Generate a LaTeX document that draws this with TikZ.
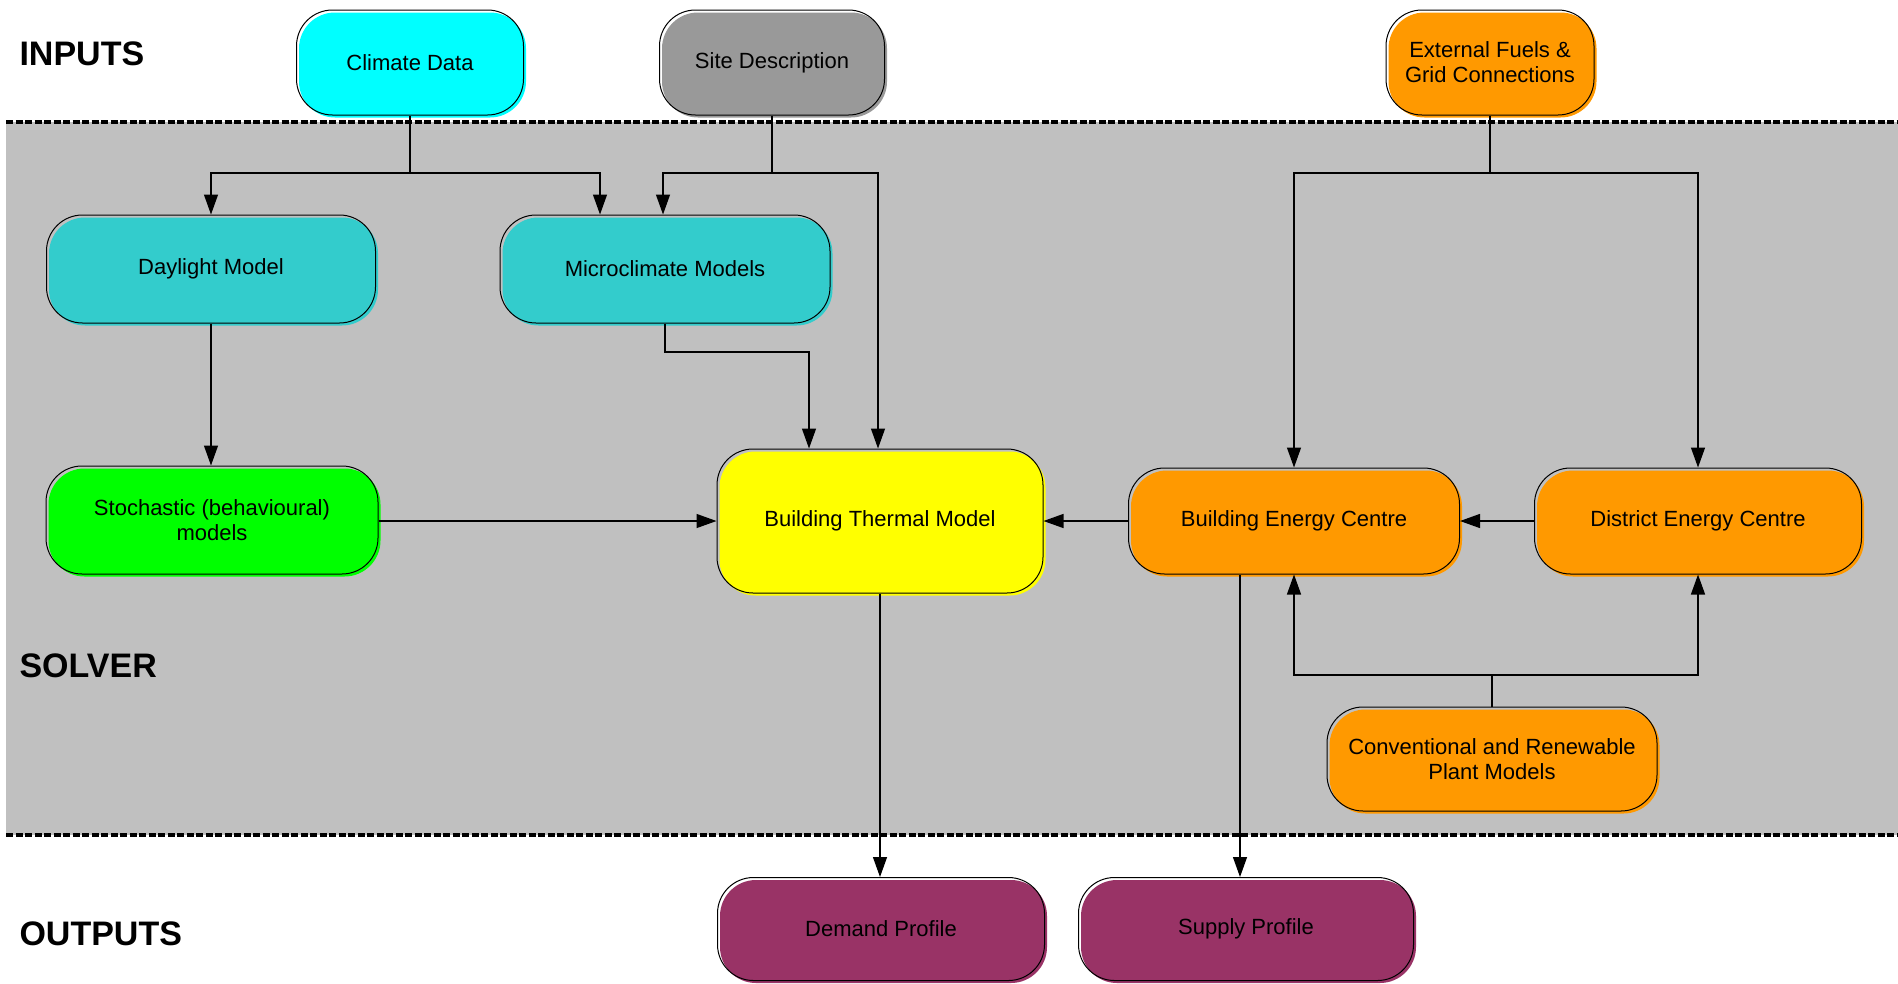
\documentclass[tikz,border=0pt]{standalone}
\usepackage{fontspec}
\setmainfont{Liberation Sans}
\usetikzlibrary{arrows.meta}
\definecolor{cyanc}{RGB}{0,255,255}
\definecolor{sitec}{RGB}{153,153,153}
\definecolor{orangec}{RGB}{255,153,0}
\definecolor{tealc}{RGB}{51,204,204}
\definecolor{greenc}{RGB}{0,255,0}
\definecolor{yellowc}{RGB}{255,255,0}
\definecolor{maroonc}{RGB}{153,51,102}
\definecolor{bandc}{RGB}{192,192,192}
\tikzset{
  box/.style={rectangle, rounded corners=36pt, draw=black, line width=1pt,
    align=center, inner sep=0pt, font=\fontsize{22}{25}\selectfont,
    preaction={fill=#1, draw=none, transform canvas={shift={(2.5pt,-2.5pt)}}}},
  conn/.style={draw=black, line width=1.3pt},
  arr/.style={conn, -{Triangle[length=20pt,width=14pt]}},
  zone/.style={font=\fontsize{34}{40}\selectfont\bfseries, anchor=west},
  sep/.style={draw=black, line width=4.5pt, dash pattern=on 7pt off 2.5pt}
}
\begin{document}
\begin{tikzpicture}[x=1pt,y=-1pt]
\useasboundingbox (0,0) rectangle (1898,983);
\fill[white] (0,0) rectangle (1898,983);
\fill[bandc] (6,122) rectangle (1898,835);
\draw[sep] (6,122) -- (1898,122);
\draw[sep] (6,835) -- (1898,835);

\node[zone] (lin) at (16,54) {INPUTS};
\node[zone] (lsol) at (16,666) {SOLVER};
\node[zone] (lout) at (16,934) {OUTPUTS};

\node[box=cyanc, minimum width=227pt, minimum height=105pt] (clim) at (410,62.5) {Climate Data};
\node[box=sitec, minimum width=225pt, minimum height=105pt] (site) at (772,62.5) {Site Description};
\node[box=orangec, minimum width=208pt, minimum height=105pt] (ext) at (1490,62.5) {External Fuels \&\\Grid Connections};

\node[box=tealc, minimum width=329pt, minimum height=108pt] (day) at (211,269) {Daylight Model};
\node[box=tealc, minimum width=330pt, minimum height=108pt] (micro) at (665,269) {Microclimate Models};

\node[box=greenc, minimum width=332pt, minimum height=108pt] (stoch) at (212,520) {Stochastic (behavioural)\\models};
\node[box=yellowc, minimum width=326pt, minimum height=144pt] (btm) at (880,521) {Building Thermal Model};
\node[box=orangec, minimum width=331pt, minimum height=106pt] (bec) at (1294,521) {Building Energy Centre};
\node[box=orangec, minimum width=327pt, minimum height=106pt] (dec) at (1698,521) {District Energy Centre};
\node[box=orangec, minimum width=330pt, minimum height=104pt] (conv) at (1492,759) {Conventional and Renewable\\Plant Models};

\node[box=maroonc, minimum width=327pt, minimum height=103pt] (dem) at (881,929) {Demand Profile};
\node[box=maroonc, minimum width=335pt, minimum height=103pt] (sup) at (1246,929) {Supply Profile};

% junctions
\coordinate (row) at (0,173);
\coordinate (jc) at (clim.south |- row);
\coordinate (js) at (site.south |- row);
\coordinate (je) at (ext.south |- row);
\coordinate (jm) at (665,352);
\coordinate (jp) at (conv.north |- 0,675);
\coordinate (mt) at ([xshift=-65pt]micro.north);
\coordinate (bt1) at ([xshift=-71pt]btm.north);
\coordinate (bt2) at ([xshift=-2pt]btm.north);
\coordinate (bb) at ([xshift=-54pt]bec.south);

% climate data
\draw[conn] (clim.south) -- (jc);
\draw[arr] (jc) -| (day.north);
\draw[arr] (jc) -| (mt);
% site description
\draw[conn] (site.south) -- (js);
\draw[arr] (js) -| ([xshift=-2pt]micro.north);
\draw[arr] (js) -| (bt2);
% microclimate to thermal
\draw[arr] (micro.south) |- (jm) -| (bt1);
% daylight to stochastic
\draw[arr] (day.south) -- (day.south |- stoch.north);
% horizontal
\draw[arr] (stoch.east |- btm.west) -- (btm.west);
\draw[arr] (bec.west) -- (btm.east |- bec.west);
\draw[arr] (dec.west) -- (bec.east);
% external fuels
\draw[conn] (ext.south) -- (je);
\draw[arr] (je) -| (bec.north);
\draw[arr] (je) -| (dec.north);
% plant models
\draw[conn] (conv.north) -- (jp);
\draw[arr] (jp) -| (bec.south);
\draw[arr] (jp) -| (dec.south);
% outputs
\draw[arr] (btm.south) -- (btm.south |- dem.north);
\draw[arr] (bb) -- (bb |- sup.north);
\end{tikzpicture}
\end{document}
